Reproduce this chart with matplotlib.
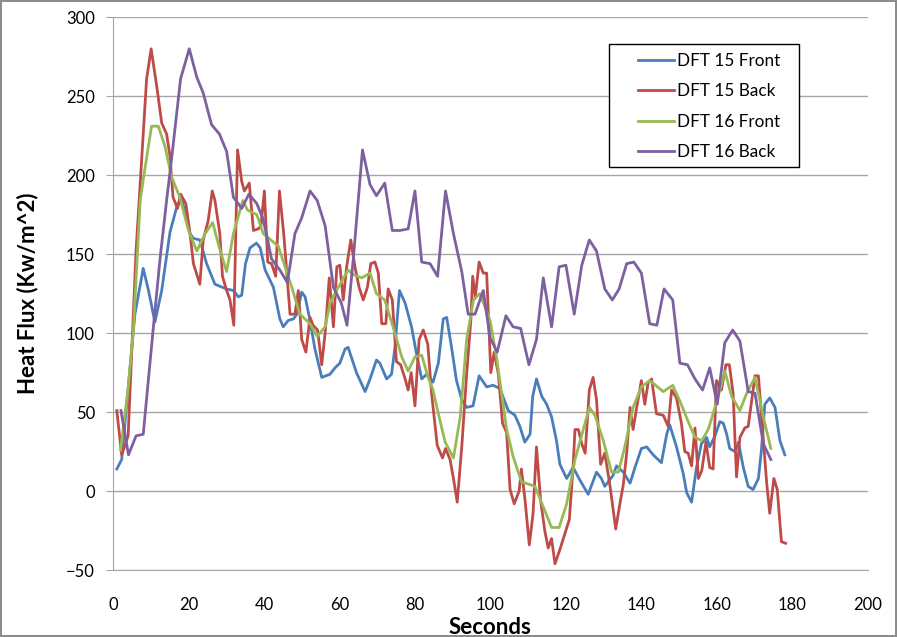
import matplotlib
matplotlib.use("Agg")
import matplotlib.pyplot as plt
from matplotlib.patches import Rectangle

plt.rcParams['font.family'] = ['Lato', 'DejaVu Sans']

# DFT 15 Front
f15_x = [1, 2.3, 4, 5.8, 8, 9.4, 11.1, 12.9, 15.1, 16.9, 18.2, 20.4, 21.3, 23, 24.8, 27, 30, 31.9, 33.2, 34.1,
         35.1, 36.3, 38, 39, 40.3, 42.5, 44.2, 45.1, 46.4, 47.8, 48.7, 50, 50.9, 52.2, 53.5, 55.3, 57.5, 58.8,
         60.1, 61.5, 62.3, 64.5, 66.8, 68.1, 69.8, 70.7, 72.5, 73.8, 74.7, 75.9, 77.4, 79.1, 80.4, 81.8, 83.1,
         84.8, 86.2, 87.5, 88.4, 89.7, 91, 92.4, 93.7, 95.4, 97, 99, 100.7, 102.5, 104.7, 106.5, 107.8, 109.1,
         110.5, 111.2, 112.2, 113.6, 114.9, 116.2, 117.5, 118.4, 120.2, 121.9, 123.7, 125.9, 128.1, 129.4,
         130.3, 132.5, 133.4, 135.2, 137, 138.3, 140, 141.4, 143.1, 145.3, 146.7, 147.5, 149.3, 151.1, 152,
         153.3, 154.6, 155.9, 157.3, 158.1, 159.5, 160.8, 161.7, 162.6, 163.4, 164.8, 165.7, 167, 168.3,
         169.6, 171, 171.8, 172.7, 174, 175.4, 176.7, 178]
f15_y = [14, 20, 65, 112, 141, 127, 107, 127, 164, 180, 185, 163, 160, 159, 144, 131, 128, 127, 123, 124,
         144, 154, 157, 154, 140, 129, 109, 104, 108, 109, 112, 126, 123, 108, 90, 72, 74, 78,
         81, 90, 91, 75, 63, 71, 83, 81, 71, 74, 91, 127, 119, 104, 87, 71, 74,
         69, 81, 109, 110, 91, 70, 58, 53, 54, 73, 66, 67, 65, 51, 48, 41, 31,
         36, 60, 71, 60, 55, 47, 32, 17, 8, 15, 7, -2, 12, 8,
         3, 10, 16, 12, 5, 15, 27, 28, 23, 18, 36, 42, 28, 11, -1,
         -7, 15, 30, 34, 28, 35, 44, 43, 36, 27, 25, 31, 15, 3,
         1, 8, 26, 55, 59, 53, 32, 23]

# DFT 15 Back
b15_x = [1, 2.3, 4, 6.1, 8.9, 10.1, 11.6, 12.9, 14.2, 15.1, 15.9, 17.1, 17.9, 19.3, 20.4, 21.3, 23, 23.9,
         25.2, 26.3, 27, 28.3, 29, 30.1, 31, 32, 33, 34.1, 34.8, 36.1, 37.2, 38.5, 39.2, 40.1, 41, 42, 43.1,
         44.1, 45.3, 46.9, 48.2, 49.1, 50, 51.1, 52.2, 53, 54.2, 55.3, 56.2, 57.3, 58.4, 59.3, 60.1, 61, 61.9,
         63, 64.1, 65.2, 66.3, 67.4, 68.3, 69.4, 70.3, 71.2, 72.3, 72.9, 74, 75.1, 76.2, 77.4, 78.2, 79, 80,
         81.1, 82.2, 83.4, 84.4, 85.9, 87.3, 88.1, 89.3, 90.2, 91.2, 92.4, 93.7, 94.8, 95.3, 96, 97, 98.1,
         99, 100.1, 101, 102.1, 103.2, 104.3, 105.2, 106.3, 107.6, 108.2, 109.1, 110.3, 111.3, 112.2, 113.3,
         114.4, 115.3, 116.2, 117.1, 118.4, 119.7, 120.9, 121.9, 122.4, 123.3, 124.2, 125.1, 126.2, 127.2,
         128.1, 129.2, 130.3, 131.7, 133.2, 134.3, 135.2, 136.1, 137, 137.8, 138.9, 140, 140.9, 141.8, 142.7,
         144, 145.8, 147.1, 148, 149.3, 150.6, 151.5, 152.4, 153.3, 154.2, 155.1, 156, 157.1, 158.1, 159,
         159.9, 161.2, 162.4, 163.3, 164.3, 165.2, 166.1, 167.4, 168.3, 170.1, 171, 173.2, 174, 175.1, 176,
         177.1, 178.2]
b15_y = [51, 23, 35, 152, 261, 280, 256, 233, 226, 212, 186, 179, 188, 182, 163, 144, 131, 159,
         171, 190, 184, 163, 136, 127, 121, 105, 216, 196, 190, 195, 165, 166, 168, 190, 145, 144, 136,
         190, 161, 112, 112, 127, 96, 88, 110, 105, 102, 80, 100, 135, 104, 142, 143, 121, 142,
         159, 142, 129, 121, 129, 144, 145, 138, 106, 106, 128, 121, 82, 80, 71, 64, 75, 54,
         96, 102, 93, 62, 29, 21, 27, 20, 8, -7, 28, 74, 108, 136, 123, 145, 138,
         138, 75, 88, 74, 43, 37, 1, -8, 0, 14, -4, -34, -14, 28, -6,
         -25, -36, -30, -46, -37, -27, -18, 15, 39, 39, 30, 24, 64, 72,
         58, 17, 24, 3, -24, -8, 4, 24, 53, 39, 55, 70, 55, 69, 71,
         49, 48, 41, 64, 59, 43, 25, 24, 16, 40, 8, 13, 31, 15, 14,
         70, 64, 80, 80, 62, 9, 34, 40, 41, 73, 73, 5, -14, 8, 1,
         -32, -33]

# DFT 16 Front
f16_x = [2, 4, 5.4, 7.2, 8, 10.2, 12, 13.8, 15.5, 17.7, 20, 22.2, 24.4, 26.4, 28.3, 30.1, 31.9, 34.4, 35.6,
         38.1, 39.8, 43.8, 46, 47.5, 49.5, 52.2, 54.1, 56.2, 57.5, 59.2, 62.3, 63.7, 65.9, 68.1, 69.8, 72,
         74.2, 76.5, 78.2, 80, 81.8, 83.5, 84.8, 86.2, 88, 90.2, 92, 93.7, 95.5, 97.2, 99.9, 101.6, 104.3,
         106, 108.2, 111.8, 114, 116.2, 118.2, 120.2, 122.4, 124.6, 126.2, 127.7, 129.9, 132.1, 133.9,
         135.6, 137.8, 140, 142.2, 145.8, 148.3, 150.2, 152.4, 154.2, 156, 157.7, 159, 160.8, 162.1, 163.9,
         166.1, 167.9, 170.1, 172.3, 174.3]
f16_y = [26, 65, 102, 184, 197, 231, 231, 218, 199, 186, 165, 152, 163, 170, 153, 139, 163, 184, 178,
         175, 163, 155, 139, 128, 112, 106, 98, 104, 119, 127, 140, 137, 135, 138, 125, 121,
         104, 85, 76, 85, 86, 72, 64, 49, 31, 21, 47, 96, 121, 125, 108, 85, 39,
         22, 6, 3, -10, -23, -23, -8, 20, 39, 53, 48, 32, 12, 12,
         28, 53, 66, 70, 63, 67, 57, 44, 34, 32, 39, 49, 64, 76, 60,
         51, 62, 72, 47, 27]

# DFT 16 Back
b16_x = [2.1, 4.1, 6.1, 8, 10.7, 12.5, 14.2, 15.5, 17.9, 20.2, 22.2, 23.9, 26.1, 28.2, 30.1, 31.9, 34.1, 36,
         38.1, 39.8, 42, 44.2, 46.2, 48.2, 50, 52.2, 54.1, 56.2, 58.4, 60.5, 62, 63.7, 66.1, 68.1, 69.8, 72,
         74, 76, 78.2, 80, 81.8, 84, 86, 88.1, 90.2, 92.4, 94.1, 95.9, 98.1, 99.9, 101.8, 104.1, 106, 108,
         110.2, 112.2, 114, 116.2, 118.2, 120, 122.2, 124.2, 126.2, 128.1, 130.3, 132.3, 134.1, 136.1, 138,
         140, 142.2, 144.1, 146, 148.3, 150.2, 152.2, 154.2, 156.2, 158.1, 160.1, 162.1, 164.2, 166.1,
         168.3, 170.1, 172.3, 174.3]
b16_y = [51, 23, 35, 36, 104, 148, 184, 210, 261, 280, 262, 252, 232, 226, 215, 186, 179, 188,
         182, 172, 147, 140, 132, 163, 173, 190, 184, 168, 129, 119, 105, 148, 216, 194, 187, 195,
         165, 165, 166, 190, 145, 144, 136, 190, 163, 139, 112, 112, 127, 97, 88, 111, 104, 103,
         80, 96, 135, 104, 142, 143, 112, 143, 159, 152, 128, 121, 128, 144, 145,
         138, 106, 105, 128, 121, 81, 80, 71, 64, 78, 55, 94, 102, 95,
         63, 62, 30, 20]

fig = plt.figure(figsize=(8.97, 6.37), dpi=100)
fig.patch.set_edgecolor('#8c8c8c')
fig.patch.set_linewidth(1.5)
ax = fig.add_axes([0.126, 0.105, 0.8415, 0.868])

ax.plot(f15_x, f15_y, color='#4A7EBB', lw=2, label='DFT 15 Front')
ax.plot(b15_x, b15_y, color='#BE4B48', lw=2, label='DFT 15 Back')
ax.plot(f16_x, f16_y, color='#98B954', lw=2, label='DFT 16 Front')
ax.plot(b16_x, b16_y, color='#7D60A0', lw=2, label='DFT 16 Back')

ax.set_xlim(0, 200)
ax.set_ylim(-50, 300)
ax.set_xticks(range(0, 201, 20))
ax.set_yticks(range(-50, 301, 50))
ax.yaxis.grid(True, color='#a6a6a6', lw=1)
ax.set_axisbelow(True)
for s in ['top', 'right']:
    ax.spines[s].set_visible(False)
ax.spines['left'].set_color('#a6a6a6')
ax.spines['bottom'].set_color('#a6a6a6')
ax.tick_params(axis='y', length=5, color='#a6a6a6', labelsize=12, pad=8)
ax.tick_params(axis='x', length=0, labelsize=12, pad=19)

ax.set_xlabel('Seconds', fontsize=16, fontweight='bold', labelpad=3)
ax.set_ylabel('Heat Flux (Kw/m^2)', fontsize=16, fontweight='bold', labelpad=20)

# legend box drawn separately so the entries can sit with a wide left margin
ax.add_patch(Rectangle((0.657, 0.729), 0.252, 0.222, transform=ax.transAxes,
                       facecolor='white', edgecolor='black', lw=1, zorder=5))
leg = ax.legend(loc='upper left', bbox_to_anchor=(0.695, 0.936), fontsize=12.3, frameon=False,
                labelspacing=0.85, handlelength=2.1, handletextpad=0.2, borderpad=0, borderaxespad=0)
leg.set_zorder(6)

fig.savefig('out.png', dpi=100)
